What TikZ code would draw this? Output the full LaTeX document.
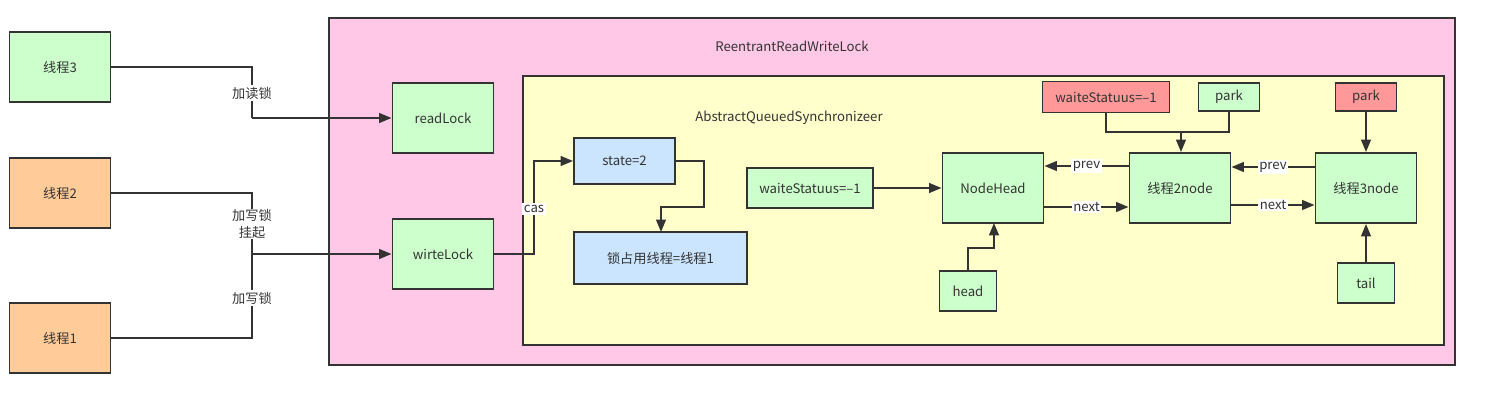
\documentclass[tikz,border=0pt]{standalone}
\usepackage{fontspec}
\setmainfont{Noto Sans CJK SC}
\usetikzlibrary{arrows.meta}

\definecolor{linec}{HTML}{333333}
\definecolor{greenc}{HTML}{CCFFCC}
\definecolor{orangec}{HTML}{FFCC99}
\definecolor{pinkc}{HTML}{FFC8E6}
\definecolor{yellowc}{HTML}{FFFFCC}
\definecolor{bluec}{HTML}{CCE5FF}
\definecolor{redc}{HTML}{FF9999}

\tikzset{
	box/.style={draw=linec, line width=1.1pt, text=linec, minimum width=2.02cm, minimum height=1.4cm, inner sep=0pt},
	arr/.style={draw=linec, line width=1.1pt, -{Triangle[length=7pt,width=5.5pt]}},
	ln/.style={draw=linec, line width=1.1pt},
	lbl/.style={fill=white, text=linec, inner sep=1pt, align=center}
}

\begin{document}
\begin{tikzpicture}[font=\fontsize{7.5}{9.5}\selectfont]
		\useasboundingbox (0,0) rectangle (29.7,8.1);
		\filldraw [fill=pinkc, draw=linec, line width=1.1pt] (6.58,0.8) rectangle (29.1,7.74);
		\filldraw [fill=yellowc, draw=linec, line width=1.1pt] (10.46,1.2) rectangle (28.88,6.58);
		\node [text=linec] (rrwl) at (15.84,7.18) {ReentrantReadWriteLock};
		\node [text=linec] (aqs) at (15.78,5.74) {AbstractQueuedSynchronizeer};
		
		\node [box, fill=greenc] (t3) at (1.2,6.76) {线程3};
		\node [box, fill=orangec] (t2) at (1.2,4.24) {线程2};
		\node [box, fill=orangec] (t1) at (1.2,1.34) {线程1};
		
		\node [box, fill=greenc] (readlock) at (8.86,5.74) {readLock};
		\node [box, fill=greenc] (writelock) at (8.86,3.02) {wirteLock};
		
		\node [box, fill=bluec, minimum height=0.92cm] (state) at (12.49,4.88) {state=2};
		\node [box, fill=bluec, minimum width=3.46cm, minimum height=1.04cm] (owner) at (13.21,2.94) {锁占用线程=线程1};
		\node [box, fill=greenc, minimum width=2.52cm, minimum height=0.8cm] (ws) at (16.2,4.34) {waiteStatuus=--1};
		
		\node [box, fill=greenc] (nodehead) at (19.86,4.34) {NodeHead};
		\node [box, fill=greenc] (t2node) at (23.6,4.34) {线程2node};
		\node [box, fill=greenc] (t3node) at (27.32,4.34) {线程3node};
		
		\node [box, fill=redc, minimum width=2.54cm, minimum height=0.62cm] (wsred) at (22.12,6.16) {waiteStatuus=--1};
		\node [box, fill=greenc, minimum width=1.22cm, minimum height=0.56cm] (park2) at (24.58,6.16) {park};
		\node [box, fill=redc, minimum width=1.22cm, minimum height=0.56cm] (park3) at (27.32,6.16) {park};
		\node [box, fill=greenc, minimum width=1.14cm, minimum height=0.8cm] (head) at (19.36,2.28) {head};
		\node [box, fill=greenc, minimum width=1.14cm, minimum height=0.8cm] (tail) at (27.32,2.44) {tail};
		
		\coordinate (jr) at (5.04,5.74);
		\coordinate (jw) at (5.04,3.02);
		\draw [ln] (t3.east) -| (jr);
		\draw [arr] (jr) -- (readlock.west);
		\node [lbl] (lread) at (5.04,6.24) {加读锁};
		\draw [ln] (t2.east) -| (jw);
		\draw [ln] (t1.east) -| (jw);
		\draw [arr] (jw) -- (writelock.west);
		\node [lbl, inner sep=0.5pt] (lwrite2) at (5.04,3.62) {加写锁\\挂起};
		\node [lbl] (lwrite1) at (5.04,2.14) {加写锁};
		
		\draw [arr] (writelock.east) -- (10.68,3.02) |- (state.west);
		\node [lbl] (lcas) at (10.68,3.92) {cas};
		\draw [arr] (state.east) -- (14.08,4.88) |- (13.22,3.96) -- (13.22,3.46);
		\draw [arr] (ws.east) -- (nodehead.west);
		
		\draw [arr] ([yshift=0.44cm]t2node.west) -- node [lbl] {prev} ([yshift=0.44cm]nodehead.east);
		\draw [arr] ([yshift=-0.38cm]nodehead.east) -- node [lbl] {next} ([yshift=-0.38cm]t2node.west);
		\draw [arr] ([yshift=0.42cm]t3node.west) -- node [lbl] {prev} ([yshift=0.42cm]t2node.east);
		\draw [arr] ([yshift=-0.34cm]t2node.east) -- node [lbl] {next} ([yshift=-0.34cm]t3node.west);
		
		\draw [ln] (wsred.south) |- (23.62,5.46);
		\draw [ln] (park2.south) |- (23.62,5.46);
		\draw [arr] (23.62,5.46) -- (t2node.north -| 23.62,0);
		\draw [arr] (park3.south) -- (t3node.north);
		\draw [arr] (head.north) |- (19.88,3.14) -- (19.88,3.64);
		\draw [arr] (tail.north) -- (t3node.south);
	
	\end{tikzpicture}
\end{document}
